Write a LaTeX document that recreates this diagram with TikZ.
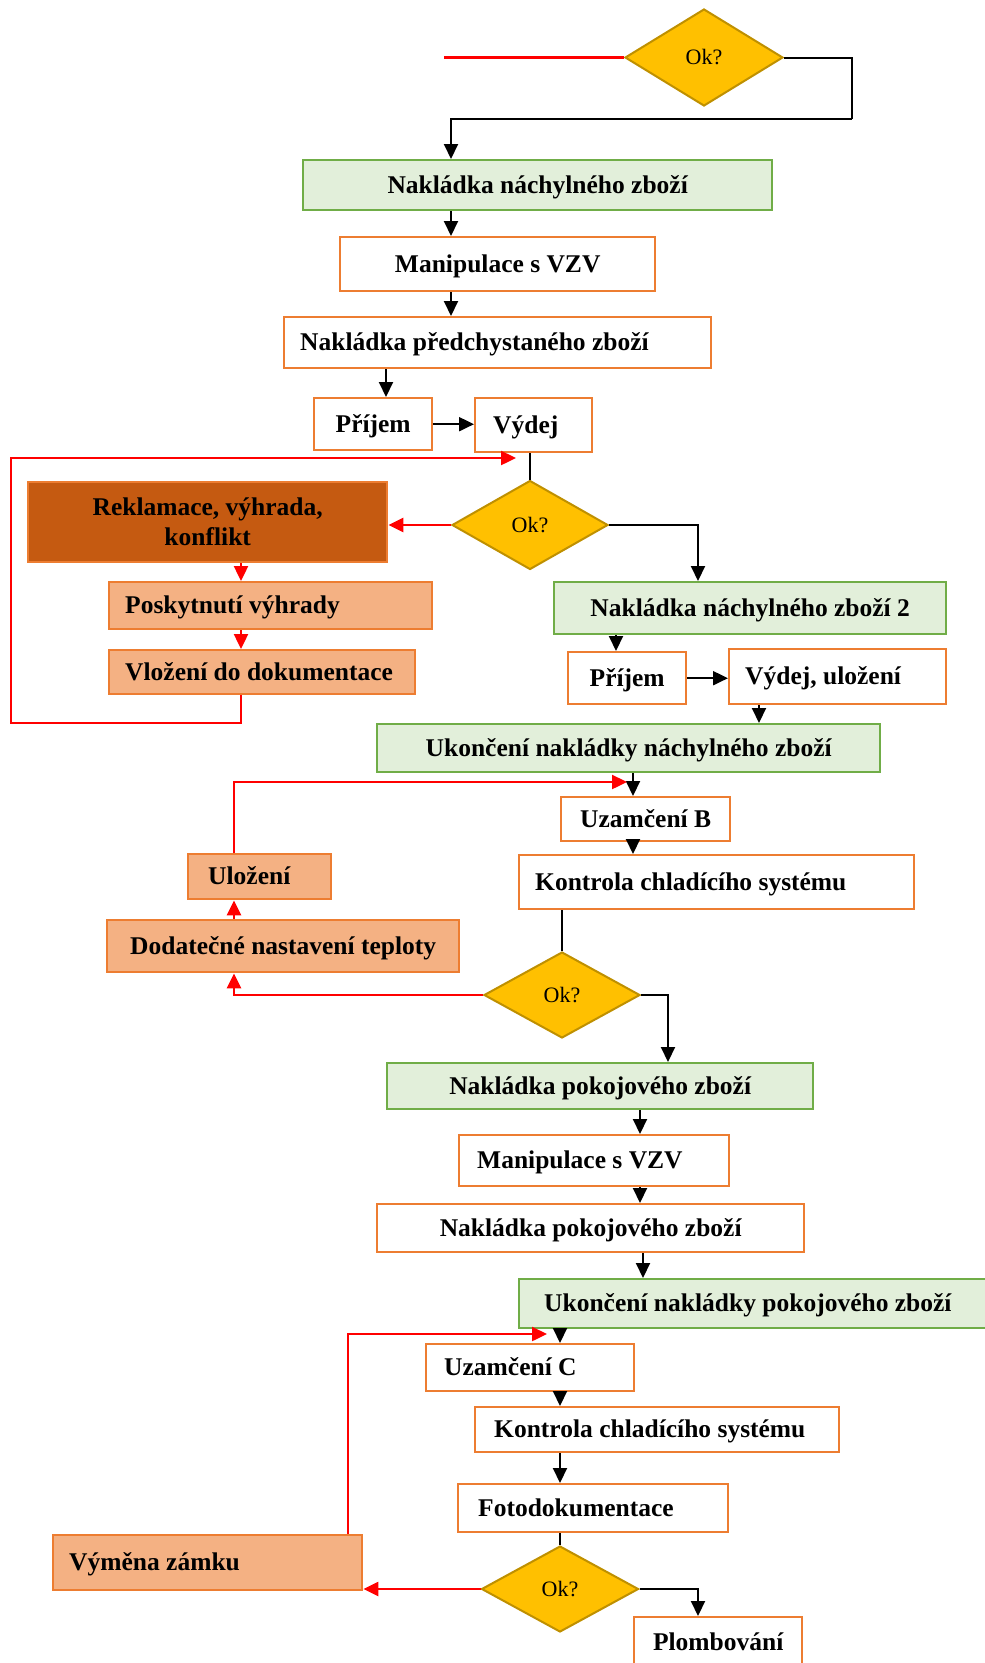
\documentclass[tikz,border=0pt]{standalone}
\usepackage{fontspec}
\setmainfont{Liberation Serif}
\usetikzlibrary{shapes.geometric,arrows.meta,calc}

\definecolor{edgeorange}{HTML}{ED7D31}
\definecolor{lightorange}{HTML}{F4B183}
\definecolor{darkorange}{HTML}{C55A11}
\definecolor{greenfill}{HTML}{E2EFDA}
\definecolor{greenedge}{HTML}{70AD47}
\definecolor{decfill}{HTML}{FFC000}
\definecolor{decedge}{HTML}{BF9000}
\definecolor{loopred}{HTML}{FF0000}

\newcommand\lblfont{\fontsize{25.5}{30}\selectfont\bfseries}
% fixed-width line, text pushed #2 pt in from the left edge
\newcommand\padded[3]{\makebox[#1pt][l]{\hspace*{#2pt}#3}}

\tikzset{
  x=1pt, y=-1pt,
  base/.style={anchor=north west, inner sep=0pt, font=\lblfont,
               text height=21pt, text depth=5pt, line width=2.4pt},
  wh/.style 2 args={minimum width=#1pt, minimum height=#2pt},
  wbox/.style={base, draw=edgeorange, fill=white},
  gbox/.style={base, draw=greenedge, fill=greenfill},
  lbox/.style={base, draw=edgeorange, fill=lightorange},
  dbox/.style={anchor=north west, inner sep=0pt, font=\lblfont, align=center,
               line width=2.4pt, draw=edgeorange, fill=darkorange},
  decision/.style={diamond, draw=decedge, fill=decfill, line width=2pt,
               inner sep=0pt, font=\fontsize{22}{22}\selectfont},
  arr/.style={draw=black, line width=2pt, -{Triangle[length=15pt,width=14pt]}},
  plain/.style={draw=black, line width=2pt},
  redarr/.style={draw=loopred, line width=2.4pt, -{Triangle[length=15pt,width=14pt]}},
  redplain/.style={draw=loopred, line width=2.4pt},
}

\begin{document}
\begin{tikzpicture}
\useasboundingbox (0,0) rectangle (985,1663);

% ---- decision 1 and first chilled load ----
\node[decision, minimum width=158pt, minimum height=97pt] (d1) at (704,57.5) {Ok?};
\node[gbox, wh={469}{50}] (b1) at (302,159) {Nakládka náchylného zboží};
\node[wbox, wh={315}{54}] (b2) at (339,236) {Manipulace s VZV};
\node[wbox, wh={427}{51}] (b3) at (283,316) {\padded{427}{16}{Nakládka předchystaného zboží}};
\node[wbox, wh={118}{52}] (b4) at (313,397) {Příjem};
\node[wbox, wh={117}{54}] (b5) at (474,397) {\padded{117}{18}{Výdej}};

% ---- decision 2 ----
\node[decision, minimum width=156pt, minimum height=89pt] (d2) at (530,525) {Ok?};
\node[dbox, minimum width=359pt, minimum height=80pt] (r1) at (27,481) {Reklamace, výhrada,\\konflikt};
\node[lbox, wh={323}{47}] (r2) at (108,581) {\padded{323}{16}{Poskytnutí výhrady}};
\node[lbox, wh={306}{44}] (r3) at (108,649) {\padded{306}{16}{Vložení do dokumentace}};
\node[gbox, wh={392}{52}] (b6) at (553,581) {Nakládka náchylného zboží 2};
\node[wbox, wh={118}{52}] (b7) at (567,651) {Příjem};
\node[wbox, wh={217}{55}] (b8) at (728,648) {\padded{217}{16}{Výdej, uložení}};
\node[gbox, wh={503}{48}] (b9) at (376,723) {Ukončení nakládky náchylného zboží};
\node[wbox, wh={169}{44}] (b10) at (560,796) {Uzamčení B};
\node[wbox, wh={395}{54}] (b11) at (518,854) {\padded{395}{16}{Kontrola chladícího systému}};

% ---- decision 3 ----
\node[decision, minimum width=156pt, minimum height=86pt] (d3) at (562,995) {Ok?};
\node[lbox, wh={143}{45}] (r4) at (187,853) {\padded{143}{20}{Uložení}};
\node[lbox, wh={352}{52}] (r5) at (106,919) {Dodatečné nastavení teploty};
\node[gbox, wh={426}{46}] (b12) at (386,1062) {Nakládka pokojového zboží};
\node[wbox, wh={270}{51}] (b13) at (458,1134) {\padded{270}{18}{Manipulace s VZV}};
\node[wbox, wh={427}{48}] (b14) at (376,1203) {Nakládka pokojového zboží};
\node[gbox, wh={477}{49}] (b15) at (518,1278) {\padded{477}{25}{Ukončení nakládky pokojového zboží}};
\node[wbox, wh={208}{47}] (b16) at (425,1343) {\padded{208}{18}{Uzamčení C}};
\node[wbox, wh={364}{45}] (b17) at (474,1406) {\padded{364}{19}{Kontrola chladícího systému}};
\node[wbox, wh={270}{48}] (b18) at (457,1483) {\padded{270}{20}{Fotodokumentace}};

% ---- decision 4 ----
\node[decision, minimum width=157pt, minimum height=86pt] (d4) at (560,1589) {Ok?};
\node[lbox, wh={309}{55}] (r6) at (52,1534) {\padded{309}{16}{Výměna zámku}};
\node[wbox, wh={168}{50}] (b19) at (633,1616) {Plombování};

% ---- columns and bend points of the connectors ----
\coordinate (x451) at (451,0);
\coordinate (x386) at (386,0);
\coordinate (x241) at (241,0);
\coordinate (x698) at (698,0);
\coordinate (x616) at (616,0);
\coordinate (x759) at (759,0);
\coordinate (x633) at (633,0);
\coordinate (x234) at (234,0);
\coordinate (x668) at (668,0);
\coordinate (x640) at (640,0);
\coordinate (x643) at (643,0);
\coordinate (x560) at (560,0);
\coordinate (x348) at (348,0);
\coordinate (in1) at (444,57.5);
\coordinate (t1) at (852,119);
\coordinate (loopcorner) at (11,723);
\coordinate (back1) at (516,458);
\coordinate (back2) at (627,782);
\coordinate (back3) at (547,1334);

% ---- black flow ----
\draw[plain] (d1.east) -| (t1);
\draw[arr] (t1) -| (b1.north -| x451);
\draw[arr] (b1.south -| x451) -- (b2.north -| x451);
\draw[arr] (b2.south -| x451) -- (b3.north -| x451);
\draw[arr] (b3.south -| x386) -- (b4.north -| x386);
\draw[arr] (b4.east) -- (b4.east -| b5.west);
\draw[plain] (b5.south -| d2.north) -- (d2.north);
\draw[arr] (d2.east) -| (b6.north -| x698);
\draw[arr] (b6.south -| x616) -- (b7.north -| x616);
\draw[arr] (b7.east) -- (b7.east -| b8.west);
\draw[arr] (b8.south -| x759) -- (b9.north -| x759);
\draw[arr] (b9.south -| x633) -- (b10.north -| x633);
\draw[arr] (b10.south -| x633) -- (b11.north -| x633);
\draw[plain] (b11.south -| d3.north) -- (d3.north);
\draw[arr] (d3.east) -| (b12.north -| x668);
\draw[arr] (b12.south -| x640) -- (b13.north -| x640);
\draw[arr] (b13.south -| x640) -- (b14.north -| x640);
\draw[arr] (b14.south -| x643) -- (b15.north -| x643);
\draw[arr] (b15.south -| x560) -- (b16.north -| x560);
\draw[arr] (b16.south -| x560) -- (b17.north -| x560);
\draw[arr] (b17.south -| x560) -- (b18.north -| x560);
\draw[plain] (b18.south -| d4.north) -- (d4.north);
\draw[arr] (d4.east) -| (b19.north -| x698);

% ---- red correction loops ----
\draw[redplain] (in1) -- (d1.west);
\draw[redarr] (d2.west) -- (d2.west -| r1.east);
\draw[redarr] (r1.south -| x241) -- (r2.north -| x241);
\draw[redarr] (r2.south -| x241) -- (r3.north -| x241);
\draw[redarr] (r3.south -| x241) |- (loopcorner) |- (back1);
\draw[redarr] (d3.west) -| (r5.south -| x234);
\draw[redarr] (r5.north -| x234) -- (r4.south -| x234);
\draw[redarr] (r4.north -| x234) |- (back2);
\draw[redarr] (d4.west) -- (d4.west -| r6.east);
\draw[redarr] (r6.north -| x348) |- (back3);
\end{tikzpicture}
\end{document}
